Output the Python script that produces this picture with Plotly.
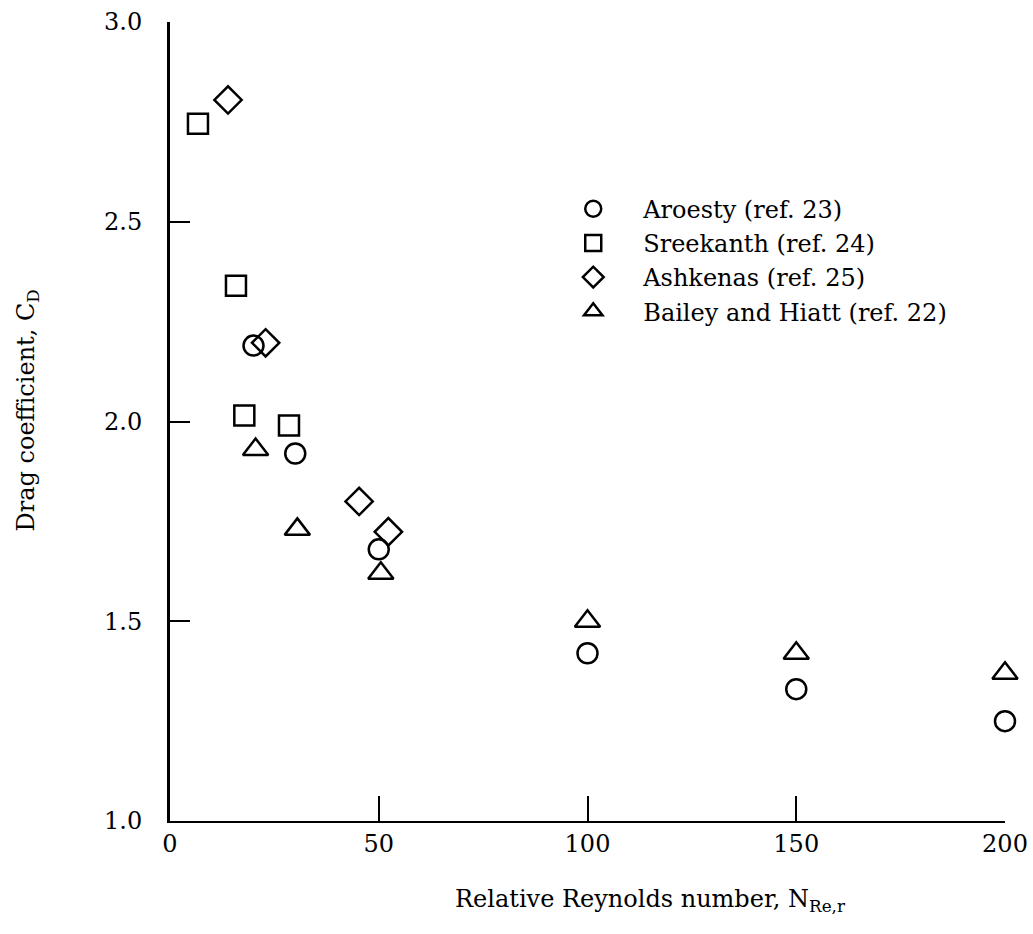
import plotly.graph_objects as go

# Drag coefficient vs relative Reynolds number, four data sources
aroesty_x = [20, 30, 50, 100, 150, 200]
aroesty_y = [2.19, 1.92, 1.68, 1.42, 1.33, 1.25]

sreekanth_x = [6.7, 15.8, 17.8, 28.5]
sreekanth_y = [2.745, 2.34, 2.015, 1.99]

ashkenas_x = [13.9, 22.9, 45.3, 52.3]
ashkenas_y = [2.805, 2.197, 1.80, 1.724]

bailey_x = [20.5, 30.5, 50.5, 100, 150, 200]
bailey_y = [1.93, 1.73, 1.62, 1.50, 1.42, 1.37]

x_ticks = [0, 50, 100, 150, 200]
y_ticks = [1.0, 1.5, 2.0, 2.5, 3.0]

FONT = "DejaVu Serif"
INK = "black"

series = [
    ("Aroesty (ref. 23)", aroesty_x, aroesty_y, "circle-open", 20),
    ("Sreekanth (ref. 24)", sreekanth_x, sreekanth_y, "square-open", 20),
    ("Ashkenas (ref. 25)", ashkenas_x, ashkenas_y, "diamond-open", 21),
    ("Bailey and Hiatt (ref. 22)", bailey_x, bailey_y, "triangle-up-open", 22),
]

fig = go.Figure()
for name, xs, ys, sym, size in series:
    fig.add_trace(go.Scatter(
        x=xs, y=ys, mode="markers", name=name,
        cliponaxis=False,
        marker=dict(symbol=sym, size=size, color=INK, line=dict(width=2.5, color=INK)),
    ))

axis_common = dict(
    showgrid=False, zeroline=False, automargin=False,
    showline=True, linecolor=INK,
    ticks="inside", tickcolor=INK, tickwidth=2,
    tickfont=dict(family=FONT, size=24, color=INK),
)

fig.update_xaxes(
    range=[0, 200], tickvals=x_ticks, ticktext=[str(v) for v in x_ticks],
    ticklen=25, ticklabelstandoff=0, linewidth=2, **axis_common,
)
fig.update_yaxes(
    range=[1.0, 3.0], tickvals=y_ticks, ticktext=[f"{v:.1f}" for v in y_ticks],
    ticklen=20, ticklabelstandoff=20, linewidth=3, **axis_common,
)

fig.add_annotation(
    text="Relative Reynolds number, N<sub>Re,r</sub>",
    xref="paper", yref="paper", x=0.576, y=-0.078, xanchor="center", yanchor="top",
    showarrow=False, font=dict(family=FONT, size=24, color=INK),
)
fig.add_annotation(
    text="Drag coefficient, C<sub>D</sub>",
    xref="paper", yref="paper", x=-0.171, y=0.514, xanchor="center", yanchor="middle",
    textangle=-90, showarrow=False, font=dict(family=FONT, size=24, color=INK),
)

fig.update_layout(
    width=1033, height=934,
    margin=dict(l=170, r=28, t=22, b=113),
    plot_bgcolor="white", paper_bgcolor="white",
    showlegend=True,
    legend=dict(
        x=0.447, y=0.794, xanchor="left", yanchor="top",
        font=dict(family=FONT, size=24, color=INK),
        bgcolor="rgba(0,0,0,0)",
        itemwidth=90,
    ),
)

fig.write_html("out.html")
